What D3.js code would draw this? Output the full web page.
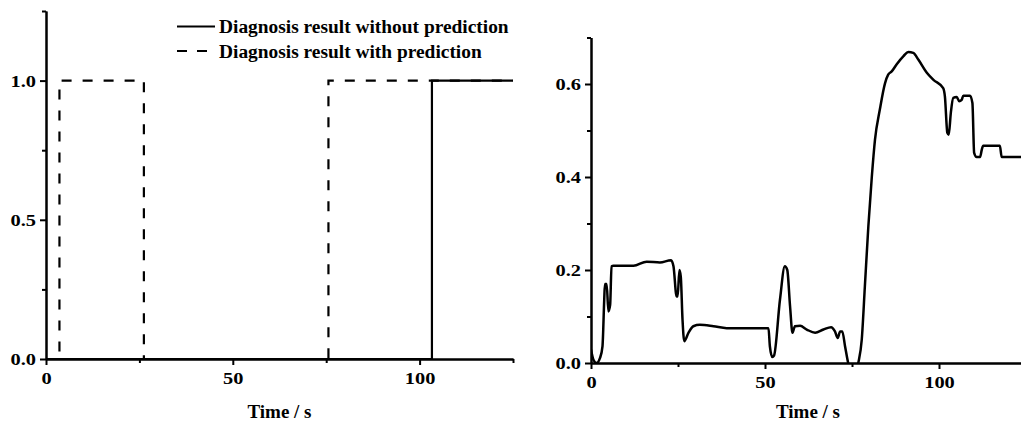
<!DOCTYPE html>
<html>
<head>
<meta charset="utf-8">
<script src="https://cdn.jsdelivr.net/npm/d3@7/dist/d3.min.js"></script>
<style>
  html, body { margin: 0; padding: 0; background: #fff; }
  svg { display: block; }
  text { font-family: "Liberation Serif", "Times New Roman", serif; font-weight: bold; fill: #000; }
</style>
</head>
<body>
<svg id="chart" width="1021" height="423"></svg>
<script>
// Diagnosis results (0 = normal, 1 = fault) as step changes over time
const timeWithout = [0, 103.3, 125];
const valueWithout = [0, 1, 1];
const timeWith = [0, 3.6, 26.2, 75.6, 125];
const valueWith = [0, 1, 0, 1, 1];

// Fault indicator signal over time
const signalTime = [0, 0.7, 1.6, 2.6, 3.3, 3.8, 4.0, 4.5, 5.0, 5.5, 5.9, 6.4, 12.2, 16, 19.8, 23,
  23.7, 24.6, 24.9, 25.4, 25.8, 26.3, 26.8, 28, 29.4, 31.3, 35.2, 39, 44.7, 51, 51.4, 52.1, 52.6,
  54.3, 55.7, 56.4, 57.2, 57.9, 58.6, 60.1, 62, 64.4, 66.8, 69, 70.1, 70.9, 71.6, 72.2, 73, 73.9,
  75.4, 76.8, 77.8, 78.7, 79.7, 80.7, 81.6, 83.0, 84.5, 85.4, 86.4, 87.8, 89.8, 91.2, 92.6, 94.1,
  96.5, 98.4, 101.2, 101.7, 102.4, 102.8, 103.4, 104.1, 105.1, 105.8, 106.5, 107, 108.9, 109.6,
  110.1, 110.8, 111.8, 112.3, 112.7, 117.5, 118, 123.6, 125];
const signalValue = [0.029, 0.007, 0.0, 0.011, 0.036, 0.136, 0.17, 0.17, 0.111, 0.125, 0.208, 0.209, 0.209, 0.218, 0.216, 0.221,
  0.208, 0.143, 0.143, 0.2, 0.186, 0.093, 0.047, 0.065, 0.079, 0.082, 0.079, 0.075, 0.075, 0.075, 0.036, 0.013, 0.016,
  0.136, 0.208, 0.2, 0.122, 0.065, 0.079, 0.080, 0.072, 0.065, 0.072, 0.077, 0.068, 0.054, 0.068, 0.068, 0.036, 0.0,
  -0.03, 0.0, 0.05, 0.165, 0.294, 0.401, 0.480, 0.545, 0.602, 0.620, 0.627, 0.642, 0.660, 0.669, 0.667, 0.652,
  0.624, 0.609, 0.591, 0.573, 0.495, 0.491, 0.538, 0.570, 0.572, 0.563, 0.566, 0.575, 0.575, 0.559,
  0.452, 0.443, 0.443, 0.459, 0.467, 0.467, 0.443, 0.443, 0.443];

const xTicksMajor = [0, 50, 100];
const xTicksMinor = [25, 75, 125];
const leftYMajor = [0, 0.5, 1.0];
const leftYMinor = [0.25, 0.75, 1.25];
const rightYMajor = [0, 0.2, 0.4, 0.6];
const rightYMinor = [0.1, 0.3, 0.5, 0.7];

const legendLabels = ["Diagnosis result without prediction", "Diagnosis result with prediction"];
const xAxisTitle = "Time / s";

const svg = d3.select("#chart");
const fmt = d3.format(".1f");
const labelStretch = 1.2; // tick labels are set slightly wide

function drawAxes(g, x, y, yMajor, yMinor) {
  const [y0] = y.range();
  // minor ticks
  g.append("g").attr("transform", `translate(0,${y0})`)
    .call(d3.axisBottom(x).tickValues(xTicksMinor).tickSize(4).tickSizeOuter(0).tickFormat(""));
  g.append("g").attr("transform", `translate(${x.range()[0]},0)`)
    .call(d3.axisLeft(y).tickValues(yMinor).tickSize(4).tickSizeOuter(0).tickFormat(""));
  // major ticks with labels
  const xa = g.append("g").attr("transform", `translate(0,${y0})`)
    .call(d3.axisBottom(x).tickValues(xTicksMajor).tickSize(6).tickSizeOuter(0).tickPadding(7).tickFormat(d3.format("d")));
  const ya = g.append("g").attr("transform", `translate(${x.range()[0]},0)`)
    .call(d3.axisLeft(y).tickValues(yMajor).tickSize(6).tickSizeOuter(0).tickPadding(4).tickFormat(fmt));
  g.selectAll(".domain, .tick line").attr("stroke", "#000").attr("stroke-width", 2);
  g.selectAll(".tick text").style("font-size", "17px").attr("fill", "#000")
    .attr("transform", `scale(${labelStretch},1)`);
  ya.selectAll(".tick text").attr("dy", "0.35em")
    .attr("x", -10 / labelStretch);
}

// ---------- Left panel: diagnosis results ----------
{
  const x = d3.scaleLinear().domain([0, 125]).range([46, 513]);
  const y = d3.scaleLinear().domain([0, 1.25]).range([359, 11]);
  const g = svg.append("g");

  const step = d3.line().curve(d3.curveStepAfter);
  const ptsWith = timeWith.map((t, i) => [x(t), y(valueWith[i])]);
  const ptsWithout = timeWithout.map((t, i) => [x(t), y(valueWithout[i])]);

  g.append("path").attr("d", step(ptsWith))
    .attr("fill", "none").attr("stroke", "#000").attr("stroke-width", 2.2)
    .attr("stroke-dasharray", "10,11");
  g.append("path").attr("d", step(ptsWithout))
    .attr("fill", "none").attr("stroke", "#000").attr("stroke-width", 2.2);

  drawAxes(g, x, y, leftYMajor, leftYMinor);

  g.append("text").attr("x", (x.range()[0] + x.range()[1]) / 2).attr("y", 418)
    .attr("text-anchor", "middle").style("font-size", "19px").text(xAxisTitle);

  // legend
  const leg = g.append("g");
  legendLabels.forEach((lab, i) => {
    const ly = 26.5 + i * 24.5;
    leg.append("line").attr("x1", 177).attr("x2", 215).attr("y1", ly).attr("y2", ly)
      .attr("stroke", "#000").attr("stroke-width", 2.2)
      .attr("stroke-dasharray", i === 0 ? null : "10,10");
    leg.append("text").attr("x", 219).attr("y", ly + 6.5)
      .style("font-size", "19.4px").text(lab);
  });
}

// ---------- Right panel: fault indicator ----------
{
  const x = d3.scaleLinear().domain([0, 125]).range([591, 1026]);
  const y = d3.scaleLinear().domain([0, 0.7]).range([363, 37.5]);
  const g = svg.append("g");

  svg.append("defs").append("clipPath").attr("id", "plotClip")
    .append("rect").attr("x", 591).attr("y", 0).attr("width", 500).attr("height", 363);

  const line = d3.line().x((d, i) => x(signalTime[i])).y(d => y(d)).curve(d3.curveMonotoneX);
  g.append("path").attr("d", line(signalValue)).attr("clip-path", "url(#plotClip)")
    .attr("fill", "none").attr("stroke", "#000").attr("stroke-width", 2.5)
    .attr("stroke-linejoin", "round");

  drawAxes(g, x, y, rightYMajor, rightYMinor);

  g.append("text").attr("x", 808).attr("y", 418)
    .attr("text-anchor", "middle").style("font-size", "19px").text(xAxisTitle);
}
</script>
</body>
</html>
